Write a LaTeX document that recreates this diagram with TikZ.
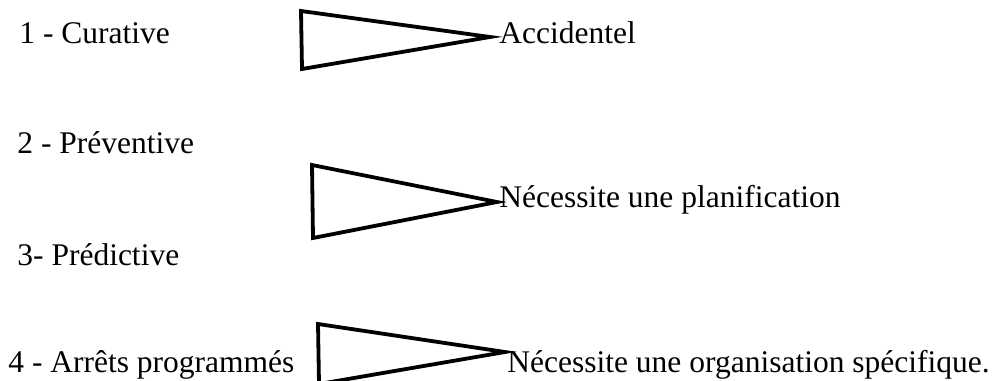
\documentclass[tikz,border=0pt]{standalone}
\usepackage{fontspec}
\setmainfont{Liberation Serif}
\begin{document}
\begin{tikzpicture}[x=0.5pt,y=-0.5pt,
  lbl/.style={anchor=base west,inner sep=0pt,font=\fontsize{15.75}{18}\selectfont},
  tri/.style={draw=black,line width=1.9pt,line join=miter}]
\useasboundingbox (0,0) rectangle (1000,380);
\node[lbl] (c1) at (19,43) {1 - Curative};
\node[lbl] (c2) at (17,153) {2 - Préventive};
\node[lbl] (c3) at (17,265) {3- Prédictive};
\node[lbl] (c4) at (8,372) {4 - Arrêts programmés};
\node[lbl] (r1) at (499,43) {Accidentel};
\node[lbl] (r2) at (499,207) {Nécessite une planification};
\node[lbl] (r3) at (507,372) {Nécessite une organisation spécifique.};
\draw[tri] (301,11) -- (490,37) -- (302,69) -- cycle;
\draw[tri] (312,165) -- (497,202) -- (313,238) -- cycle;
\draw[tri] (318,324) -- (505,352) -- (319,384) -- cycle;
\end{tikzpicture}
\end{document}
